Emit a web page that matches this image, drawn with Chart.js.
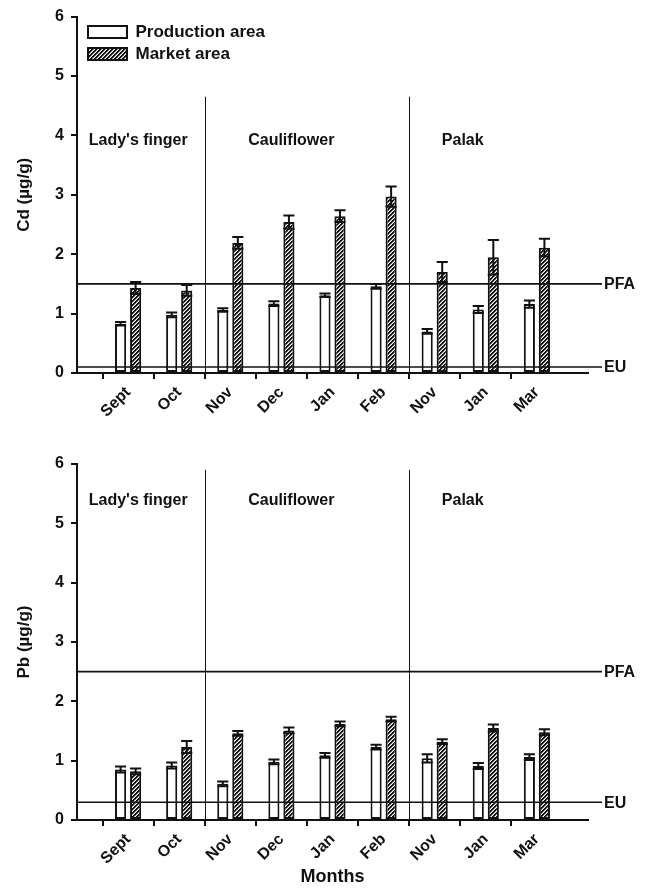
<!DOCTYPE html>
<html>
<head>
<meta charset="utf-8">
<script src="https://cdn.jsdelivr.net/npm/chart.js@4"></script>
<style>
  html, body { margin: 0; padding: 0; background: #fff; }
  #wrap { position: relative; width: 647px; height: 888px; }
  canvas { position: absolute; left: 0; }
</style>
</head>
<body>
<div id="wrap">
  <canvas id="cd" width="647" height="444" style="top:0"></canvas>
  <canvas id="pb" width="647" height="444" style="top:444px"></canvas>
</div>
<script>
// Sampling months (two crops share Nov / Jan)
const months = ['Sept', 'Oct', 'Nov', 'Dec', 'Jan', 'Feb', 'Nov', 'Jan', 'Mar'];
const seriesNames = ['Production area', 'Market area'];

// Vegetable groups and the boundaries between them (in month-slot units)
const sectionNames = ["Lady's finger", 'Cauliflower', 'Palak'];
const sectionStarts = [0.23, 3.35, 7.14];
const sectionBreaks = [2.5, 6.5];

// Cadmium (µg/g): mean and standard error
const cdProduction    = [0.83, 0.98, 1.06, 1.17, 1.31, 1.46, 0.70, 1.07, 1.16];
const cdProductionErr = [0.03, 0.04, 0.03, 0.04, 0.03, 0.04, 0.04, 0.06, 0.06];
const cdMarket        = [1.43, 1.39, 2.19, 2.54, 2.64, 2.97, 1.70, 1.95, 2.11];
const cdMarketErr     = [0.10, 0.09, 0.10, 0.11, 0.10, 0.17, 0.17, 0.29, 0.15];

// Lead (µg/g): mean and standard error
const pbProduction    = [0.85, 0.92, 0.61, 0.98, 1.09, 1.23, 1.04, 0.91, 1.06];
const pbProductionErr = [0.05, 0.05, 0.04, 0.04, 0.04, 0.04, 0.07, 0.05, 0.05];
const pbMarket        = [0.82, 1.23, 1.46, 1.51, 1.62, 1.70, 1.32, 1.55, 1.48];
const pbMarketErr     = [0.05, 0.10, 0.04, 0.05, 0.04, 0.04, 0.04, 0.06, 0.05];

// Permissible limits
const limitNames = ['PFA', 'EU'];
const cdLimits = [1.5, 0.1];
const pbLimits = [2.5, 0.3];

const yTicks = [0, 1, 2, 3, 4, 5, 6];

Chart.defaults.font.family = "'Liberation Sans', Arial, Helvetica, sans-serif";
Chart.defaults.font.weight = 'bold';
Chart.defaults.color = '#111';

// Diagonal hatch fill for the market bars
function makeHatch() {
  const size = 4;
  const c = document.createElement('canvas');
  c.width = size; c.height = size;
  const g = c.getContext('2d');
  const img = g.createImageData(size, size);
  const shades = [17, 17, 150, 255];
  for (let py = 0; py < size; py++) {
    for (let px = 0; px < size; px++) {
      const k = (py * size + px) * 4;
      const v = shades[(px + py) % 4];
      img.data[k] = v; img.data[k + 1] = v; img.data[k + 2] = v; img.data[k + 3] = 255;
    }
  }
  g.putImageData(img, 0, 0);
  return document.getElementById('cd').getContext('2d').createPattern(c, 'repeat');
}
const hatch = makeHatch();

const pad = arr => [null, ...arr, null];

// Error bars, limit lines, group separators and group names
const overlay = {
  id: 'overlay',
  afterLayout(chart, args, opts) {
    // the in-plot legend sits a little inside the axes corner
    const lg = chart.legend;
    if (lg && lg.options.display) {
      lg.left += opts.legendDx; lg.right += opts.legendDx;
      lg.top += opts.legendDy; lg.bottom += opts.legendDy;
    }
  },
  afterDatasetsDraw(chart, args, opts) {
    const { ctx, chartArea: a, scales: { x, y } } = chart;
    ctx.save();
    ctx.strokeStyle = '#111';
    ctx.lineWidth = 2;
    chart.data.datasets.forEach((ds, i) => {
      const meta = chart.getDatasetMeta(i);
      meta.data.forEach((bar, j) => {
        const v = ds.data[j], e = ds.errors[j];
        if (v == null || e == null) return;
        const yHi = y.getPixelForValue(v + e);
        const yLo = y.getPixelForValue(v - e);
        const half = bar.width / 2;
        ctx.beginPath();
        ctx.moveTo(bar.x, yLo); ctx.lineTo(bar.x, yHi);
        ctx.moveTo(bar.x - half, yHi); ctx.lineTo(bar.x + half, yHi);
        ctx.moveTo(bar.x - half, yLo); ctx.lineTo(bar.x + half, yLo);
        ctx.stroke();
      });
    });

    // limit lines with their names
    ctx.lineWidth = 1.6;
    ctx.font = "bold 16px 'Liberation Sans', Arial, sans-serif";
    ctx.fillStyle = '#111';
    ctx.textBaseline = 'middle';
    ctx.textAlign = 'left';
    opts.limits.forEach((val, k) => {
      const py = y.getPixelForValue(val);
      ctx.beginPath();
      ctx.moveTo(a.left, py); ctx.lineTo(a.right + 14, py);
      ctx.stroke();
      ctx.fillText(limitNames[k], a.right + 16, py + 1);
    });

    // thin separators between vegetable groups
    ctx.lineWidth = 1;
    sectionBreaks.forEach(b => {
      const px = Math.round(x.getPixelForValue(b)) + 0.5;
      ctx.beginPath();
      ctx.moveTo(px, y.getPixelForValue(opts.breakTop));
      ctx.lineTo(px, a.bottom + 4);
      ctx.stroke();
    });

    sectionNames.forEach((name, k) => {
      ctx.fillText(name, x.getPixelForValue(sectionStarts[k]), y.getPixelForValue(opts.nameY));
    });
    ctx.restore();
  }
};

function buildChart(id, cfg) {
  return new Chart(document.getElementById(id), {
    type: 'bar',
    data: {
      labels: pad(months).map(m => m || ''),
      datasets: [
        {
          label: seriesNames[0],
          data: pad(cfg.production),
          errors: pad(cfg.productionErr),
          backgroundColor: '#fff',
          borderColor: '#111',
          borderWidth: 2,
          borderSkipped: false,
          categoryPercentage: 0.588,
          barPercentage: 0.74
        },
        {
          label: seriesNames[1],
          data: pad(cfg.market),
          errors: pad(cfg.marketErr),
          backgroundColor: hatch,
          borderColor: '#111',
          borderWidth: 2,
          borderSkipped: false,
          categoryPercentage: 0.588,
          barPercentage: 0.74
        }
      ]
    },
    options: {
      responsive: false,
      animation: false,
      layout: { padding: { left: 0, right: 59, top: cfg.top, bottom: 0 } },
      scales: {
        x: {
          type: 'category',
          offset: false,
          grid: {
            display: true, drawOnChartArea: false, drawTicks: true, tickLength: 6, lineWidth: 2,
            color: c => (c.index === 0 || c.index === months.length + 1) ? 'rgba(0,0,0,0)' : '#111'
          },
          border: { display: true, color: '#111', width: 2 },
          ticks: {
            autoSkip: false, maxRotation: 45, minRotation: 45, padding: 4,
            color: '#111', font: { size: 16, weight: 'bold' }
          },
          title: {
            display: !!cfg.xTitle, text: cfg.xTitle || '', color: '#111',
            font: { size: 18, weight: 'bold' }, padding: { top: 0, bottom: 0 }
          },
          afterFit: s => { s.height = cfg.xHeight; }
        },
        y: {
          min: 0, max: 6,
          afterBuildTicks: s => { s.ticks = yTicks.map(v => ({ value: v })); },
          grid: { display: true, drawOnChartArea: false, drawTicks: true, tickLength: 6, lineWidth: 2, color: '#111' },
          border: { display: true, color: '#111', width: 2 },
          ticks: { padding: 7, color: '#111', font: { size: 16, weight: 'bold' } },
          title: {
            display: true, text: cfg.yTitle, color: '#111',
            font: { size: 17, weight: 'bold' }, padding: { top: 14, bottom: 0 }
          },
          afterFit: s => { s.width = 77; }
        }
      },
      plugins: {
        legend: {
          display: cfg.legend,
          position: 'chartArea',
          align: 'start',
          labels: {
            boxWidth: 39, boxHeight: 12, padding: 5, color: '#111',
            font: { size: 17, weight: 'bold' }
          }
        },
        tooltip: { enabled: false },
        overlay: {
          limits: cfg.limits, breakTop: cfg.breakTop, nameY: cfg.nameY,
          legendDx: 6, legendDy: 18.5
        }
      }
    },
    plugins: [overlay]
  });
}

buildChart('cd', {
  production: cdProduction, productionErr: cdProductionErr,
  market: cdMarket, marketErr: cdMarketErr,
  limits: cdLimits, yTitle: 'Cd (µg/g)', legend: true,
  top: 15, xHeight: 71, breakTop: 4.65, nameY: 3.92
});

buildChart('pb', {
  production: pbProduction, productionErr: pbProductionErr,
  market: pbMarket, marketErr: pbMarketErr,
  limits: pbLimits, yTitle: 'Pb (µg/g)', legend: false, xTitle: 'Months',
  top: 20, xHeight: 68, breakTop: 5.9, nameY: 5.38
});
</script>
</body>
</html>
